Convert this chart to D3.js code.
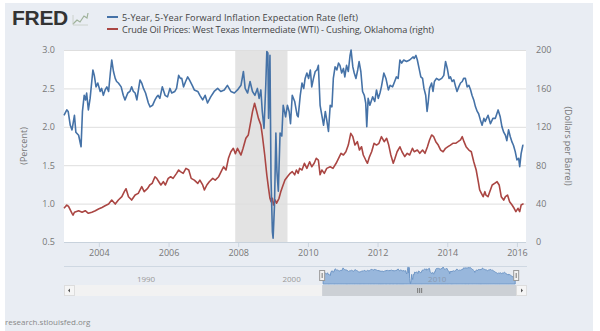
<!DOCTYPE html>
<html>
<head>
<meta charset="utf-8">
<script src="https://cdn.jsdelivr.net/npm/d3@7"></script>
<style>
  body { margin: 0; background: #fff; }
  svg { display: block; font-family: "Open Sans", sans-serif; }
</style>
</head>
<body>
<svg id="chart" width="600" height="331"></svg>
<script>
// 5-Year, 5-Year Forward Inflation Expectation Rate, percent (decimal year, value)
const inflYears = [
  2003.00, 2003.08, 2003.12, 2003.18, 2003.23, 2003.30, 2003.34, 2003.42, 2003.49, 2003.53,
  2003.58, 2003.62, 2003.65, 2003.70, 2003.75, 2003.83, 2003.87, 2003.92, 2003.97, 2004.04,
  2004.08, 2004.13, 2004.18, 2004.23, 2004.28, 2004.33, 2004.37, 2004.42, 2004.47, 2004.51,
  2004.56, 2004.64, 2004.70, 2004.75, 2004.83, 2004.89, 2004.94, 2004.99, 2005.04, 2005.09,
  2005.18, 2005.23, 2005.28, 2005.34, 2005.42, 2005.47, 2005.54, 2005.61, 2005.66, 2005.70,
  2005.75, 2005.82, 2005.90, 2005.97, 2006.04, 2006.09, 2006.18, 2006.23, 2006.29, 2006.34,
  2006.38, 2006.43, 2006.49, 2006.55, 2006.60, 2006.68, 2006.74, 2006.84, 2006.90, 2006.98,
  2007.05, 2007.12, 2007.21, 2007.31, 2007.41, 2007.50, 2007.60, 2007.69, 2007.79, 2007.89,
  2007.98, 2008.08, 2008.15, 2008.20, 2008.27, 2008.34, 2008.41, 2008.48, 2008.55, 2008.60,
  2008.65, 2008.69, 2008.74, 2008.79, 2008.82, 2008.85, 2008.87, 2008.91, 2008.94, 2008.98,
  2009.00, 2009.04, 2009.08, 2009.11, 2009.15, 2009.20, 2009.25, 2009.29, 2009.36, 2009.41,
  2009.46, 2009.50, 2009.55, 2009.62, 2009.69, 2009.72, 2009.78, 2009.83, 2009.88, 2009.92,
  2009.97, 2010.02, 2010.07, 2010.11, 2010.16, 2010.21, 2010.26, 2010.30, 2010.35, 2010.40,
  2010.45, 2010.50, 2010.54, 2010.59, 2010.64, 2010.69, 2010.73, 2010.78, 2010.83, 2010.88,
  2010.92, 2010.97, 2011.02, 2011.06, 2011.11, 2011.16, 2011.21, 2011.24, 2011.29, 2011.33,
  2011.38, 2011.43, 2011.47, 2011.52, 2011.57, 2011.62, 2011.66, 2011.69, 2011.73, 2011.78,
  2011.86, 2011.92, 2011.97, 2012.02, 2012.07, 2012.11, 2012.18, 2012.24, 2012.31, 2012.36,
  2012.43, 2012.49, 2012.54, 2012.59, 2012.64, 2012.69, 2012.75, 2012.83, 2012.92, 2013.02,
  2013.05, 2013.10, 2013.14, 2013.19, 2013.24, 2013.29, 2013.33, 2013.38, 2013.42, 2013.45,
  2013.49, 2013.55, 2013.59, 2013.63, 2013.69, 2013.76, 2013.84, 2013.90, 2013.95, 2014.00,
  2014.05, 2014.09, 2014.14, 2014.19, 2014.24, 2014.28, 2014.33, 2014.38, 2014.43, 2014.47,
  2014.52, 2014.57, 2014.62, 2014.67, 2014.71, 2014.76, 2014.81, 2014.86, 2014.90, 2014.95,
  2015.00, 2015.05, 2015.09, 2015.17, 2015.24, 2015.31, 2015.38, 2015.46, 2015.52, 2015.57,
  2015.62, 2015.67, 2015.71, 2015.76, 2015.81, 2015.86, 2015.90, 2015.95, 2016.00, 2016.05,
  2016.08, 2016.12, 2016.17, 2016.19
];
const inflRate = [
  2.15, 2.22, 2.20, 2.02, 1.96, 2.15, 1.93, 1.89, 1.74, 2.20,
  2.41, 2.35, 2.44, 2.22, 2.37, 2.74, 2.67, 2.52, 2.57, 2.46,
  2.50, 2.41, 2.48, 2.52, 2.46, 2.70, 2.87, 2.72, 2.63, 2.59,
  2.57, 2.52, 2.41, 2.35, 2.44, 2.46, 2.52, 2.46, 2.44, 2.35,
  2.61, 2.57, 2.50, 2.44, 2.31, 2.26, 2.28, 2.35, 2.39, 2.41,
  2.37, 2.52, 2.41, 2.39, 2.50, 2.44, 2.46, 2.50, 2.67, 2.63,
  2.63, 2.52, 2.59, 2.65, 2.61, 2.54, 2.48, 2.46, 2.41, 2.35,
  2.41, 2.31, 2.39, 2.46, 2.50, 2.46, 2.48, 2.54, 2.46, 2.44,
  2.48, 2.54, 2.72, 2.50, 2.44, 2.59, 2.46, 2.41, 2.50, 2.37,
  2.48, 2.20, 1.98, 2.54, 2.98, 2.96, 2.11, 2.93, 1.33, 0.63,
  0.55, 0.98, 1.92, 1.42, 1.16, 1.92, 1.88, 2.28, 2.13, 2.28,
  2.20, 2.04, 2.41, 2.33, 2.15, 2.13, 2.41, 2.57, 2.50, 2.63,
  2.70, 2.63, 2.74, 2.52, 2.63, 2.72, 2.74, 2.80, 2.28, 2.15,
  2.02, 2.20, 2.09, 1.94, 2.28, 2.26, 2.63, 2.78, 2.74, 2.83,
  2.80, 2.70, 2.76, 2.65, 2.80, 2.72, 2.93, 3.00, 2.78, 2.70,
  2.63, 2.74, 2.85, 2.72, 2.46, 2.41, 2.31, 2.00, 2.37, 2.28,
  2.39, 2.33, 2.48, 2.37, 2.44, 2.52, 2.70, 2.63, 2.48, 2.54,
  2.52, 2.59, 2.65, 2.63, 2.87, 2.83, 2.87, 2.85, 2.87, 2.91,
  2.89, 2.93, 2.87, 2.76, 2.65, 2.63, 2.50, 2.41, 2.20, 2.31,
  2.50, 2.57, 2.46, 2.59, 2.63, 2.61, 2.63, 2.67, 2.85, 2.76,
  2.63, 2.65, 2.59, 2.61, 2.52, 2.46, 2.52, 2.57, 2.59, 2.63,
  2.63, 2.52, 2.54, 2.48, 2.41, 2.35, 2.26, 2.20, 2.17, 2.09,
  2.02, 2.11, 2.07, 2.15, 2.04, 2.11, 2.11, 2.22, 2.13, 2.00,
  1.93, 1.89, 1.82, 1.96, 1.87, 1.80, 1.76, 1.68, 1.57, 1.59,
  1.48, 1.65, 1.76, 1.76
];

// Crude Oil Prices: WTI - Cushing, Oklahoma, dollars per barrel
const oilYears = [
  2003.00, 2003.08, 2003.13, 2003.23, 2003.26, 2003.30, 2003.42, 2003.52, 2003.61, 2003.70,
  2003.80, 2003.90, 2003.99, 2004.09, 2004.18, 2004.28, 2004.37, 2004.47, 2004.56, 2004.66,
  2004.73, 2004.78, 2004.85, 2004.94, 2005.04, 2005.13, 2005.23, 2005.30, 2005.40, 2005.46,
  2005.53, 2005.61, 2005.66, 2005.72, 2005.78, 2005.85, 2005.91, 2005.99, 2006.06, 2006.13,
  2006.23, 2006.29, 2006.34, 2006.42, 2006.50, 2006.58, 2006.65, 2006.74, 2006.84, 2006.90,
  2006.98, 2007.03, 2007.10, 2007.17, 2007.27, 2007.34, 2007.44, 2007.51, 2007.58, 2007.65,
  2007.72, 2007.79, 2007.86, 2007.92, 2007.98, 2008.08, 2008.14, 2008.22, 2008.29, 2008.36,
  2008.41, 2008.47, 2008.52, 2008.58, 2008.65, 2008.69, 2008.76, 2008.82, 2008.87, 2008.91,
  2008.94, 2008.98, 2009.01, 2009.06, 2009.10, 2009.17, 2009.22, 2009.27, 2009.34, 2009.41,
  2009.49, 2009.55, 2009.62, 2009.67, 2009.72, 2009.76, 2009.83, 2009.90, 2009.97, 2010.05,
  2010.11, 2010.18, 2010.24, 2010.30, 2010.35, 2010.40, 2010.47, 2010.54, 2010.64, 2010.72,
  2010.81, 2010.88, 2010.95, 2011.02, 2011.09, 2011.16, 2011.23, 2011.29, 2011.35, 2011.42,
  2011.48, 2011.54, 2011.59, 2011.66, 2011.71, 2011.77, 2011.83, 2011.90, 2011.97, 2012.04,
  2012.11, 2012.19, 2012.26, 2012.32, 2012.38, 2012.45, 2012.50, 2012.56, 2012.64, 2012.70,
  2012.78, 2012.85, 2012.92, 2013.00, 2013.05, 2013.14, 2013.21, 2013.29, 2013.36, 2013.43,
  2013.49, 2013.55, 2013.61, 2013.67, 2013.74, 2013.81, 2013.88, 2013.95, 2014.02, 2014.09,
  2014.16, 2014.24, 2014.31, 2014.38, 2014.43, 2014.48, 2014.54, 2014.62, 2014.69, 2014.76,
  2014.83, 2014.89, 2014.93, 2014.98, 2015.03, 2015.08, 2015.11, 2015.17, 2015.22, 2015.29,
  2015.36, 2015.43, 2015.49, 2015.55, 2015.62, 2015.67, 2015.73, 2015.79, 2015.86, 2015.92,
  2015.97, 2016.03, 2016.08, 2016.12, 2016.19
];
const oilPrice = [
  35.1, 38.5, 37.0, 29.9, 28.0, 31.0, 32.6, 31.0, 32.6, 29.9,
  31.0, 32.6, 34.3, 36.0, 37.7, 39.5, 43.7, 39.5, 43.7, 47.2,
  52.4, 55.5, 47.2, 43.7, 48.9, 50.7, 57.6, 52.4, 55.9, 59.4,
  61.1, 68.0, 66.3, 62.8, 59.4, 62.8, 59.4, 66.3, 68.0, 66.3,
  71.5, 75.0, 73.3, 71.5, 76.7, 75.0, 66.3, 64.5, 61.1, 64.5,
  59.4, 54.2, 59.4, 62.8, 66.3, 64.5, 68.0, 73.3, 78.4, 75.0,
  87.2, 94.0, 97.6, 92.0, 97.6, 90.6, 97.6, 108.0, 111.5, 125.3,
  135.8, 144.5, 137.5, 128.8, 121.8, 111.5, 90.6, 69.8, 55.9, 45.5,
  42.1, 45.5, 38.5, 43.8, 40.4, 45.5, 52.4, 57.6, 64.5, 68.0,
  71.5, 73.3, 70.0, 75.0, 71.5, 76.7, 75.0, 82.0, 76.7, 83.6,
  78.4, 82.0, 87.2, 85.4, 70.0, 75.0, 71.5, 76.7, 78.4, 76.7,
  82.0, 87.2, 92.4, 90.6, 94.0, 101.0, 113.2, 109.7, 101.0, 104.5,
  95.8, 99.2, 90.6, 85.4, 82.0, 89.0, 94.0, 102.8, 101.0, 102.8,
  109.7, 104.5, 108.0, 101.0, 90.6, 82.0, 87.2, 94.0, 99.2, 94.0,
  89.0, 92.4, 90.6, 97.6, 94.0, 95.8, 92.4, 95.8, 92.4, 99.3,
  106.3, 111.5, 109.7, 104.5, 101.0, 95.8, 94.0, 97.6, 99.3, 101.0,
  102.8, 102.8, 104.5, 106.3, 109.7, 104.5, 99.3, 95.8, 94.0, 83.6,
  75.0, 62.8, 54.2, 50.7, 47.2, 52.4, 48.9, 47.2, 52.4, 59.4,
  61.1, 62.8, 59.4, 47.2, 43.7, 47.2, 48.9, 42.0, 38.5, 35.1,
  31.6, 35.1, 31.6, 38.5, 40.0
];

const recession = ["2007-12-01", "2009-06-01"];
const leftTicks = [0.5, 1.0, 1.5, 2.0, 2.5, 3.0];
const rightTicks = [0, 40, 80, 120, 160, 200];
const navTicks = [1990, 2000, 2010];
const seriesNames = [
  "5-Year, 5-Year Forward Inflation Expectation Rate (left)",
  "Crude Oil Prices: West Texas Intermediate (WTI) - Cushing, Oklahoma (right)"
];
const seriesColors = ["#4572a7", "#aa4643"];
const legendWidths = [236, 312];

// decimal year -> Date
function toDate(y) {
  const yr = Math.floor(y);
  const a = new Date(yr, 0, 1), b = new Date(yr + 1, 0, 1);
  return new Date(+a + (y - yr) * (b - a));
}

const infl = inflYears.map((y, i) => ({ date: toDate(y), value: inflRate[i] }));
const oil = oilYears.map((y, i) => ({ date: toDate(y), value: oilPrice[i] }));

const svg = d3.select("#chart");
const plot = { left: 64, top: 50, right: 526, bottom: 242 };
const nav = { top: 266, bottom: 284, left: 64, right: 527 };

// page background
svg.append("rect")
  .attr("x", 5).attr("y", 3).attr("width", 588).attr("height", 328)
  .attr("fill", "#e9edf3");

// header: FRED logo + legend
svg.append("text")
  .attr("x", 12).attr("y", 25)
  .attr("font-family", "Liberation Sans, Arial, sans-serif")
  .attr("font-weight", "bold").attr("font-size", 21)
  .attr("letter-spacing", -0.3)
  .attr("fill", "#333")
  .text("FRED");
const icon = svg.append("g").attr("transform", "translate(72,12)");
icon.append("path")
  .attr("d", "M1,12 L5,8 L8,10 L12,4 L15,6 L16,1")
  .attr("fill", "none").attr("stroke", "#9fb29a").attr("stroke-width", 1.2);
icon.append("path")
  .attr("d", "M1,13 L16,13 M1,13 L1,3")
  .attr("fill", "none").attr("stroke", "#c4ccc2").attr("stroke-width", 0.8);

const legend = svg.append("g");
seriesNames.forEach((name, i) => {
  const y = 17 + i * 12;
  legend.append("line")
    .attr("x1", 107).attr("x2", 118).attr("y1", y).attr("y2", y)
    .attr("stroke", seriesColors[i]).attr("stroke-width", 2);
  legend.append("text")
    .attr("x", 122).attr("y", y + 3.5)
    .attr("font-size", 9.2).attr("fill", "#444")
    .attr("textLength", legendWidths[i]).attr("lengthAdjust", "spacing")
    .text(name);
});

// scales
const x = d3.scaleTime()
  .domain([toDate(2003.0), toDate(2016.26)])
  .range([plot.left, plot.right]);
const yL = d3.scaleLinear().domain([0.5, 3.0]).range([plot.bottom, plot.top]);
const yR = d3.scaleLinear().domain([0, 200]).range([plot.bottom, plot.top]);

// plot area
svg.append("rect")
  .attr("x", plot.left).attr("y", plot.top)
  .attr("width", plot.right - plot.left).attr("height", plot.bottom - plot.top)
  .attr("fill", "#fff");

// recession shading
svg.append("rect")
  .attr("x", x(new Date(recession[0])))
  .attr("y", plot.top)
  .attr("width", x(new Date(recession[1])) - x(new Date(recession[0])))
  .attr("height", plot.bottom - plot.top)
  .attr("fill", "#e3e3e3");

// gridlines
svg.append("g")
  .attr("transform", "translate(" + plot.left + ",0)")
  .call(d3.axisLeft(yL).tickValues(leftTicks).tickSize(-(plot.right - plot.left)).tickFormat(""))
  .call(g => g.select(".domain").remove())
  .call(g => g.selectAll("line").attr("stroke", "#dedede"));

// left axis
svg.append("g")
  .attr("transform", "translate(" + plot.left + ",0)")
  .call(d3.axisLeft(yL).tickValues(leftTicks).tickSize(0).tickPadding(9).tickFormat(d3.format(".1f")))
  .call(g => g.select(".domain").remove())
  .call(g => g.selectAll("text").attr("fill", "#777").attr("font-size", 9).attr("font-family", "Open Sans"));

// right axis
svg.append("g")
  .attr("transform", "translate(" + plot.right + ",0)")
  .call(d3.axisRight(yR).tickValues(rightTicks).tickSize(0).tickPadding(10))
  .call(g => g.select(".domain").remove())
  .call(g => g.selectAll("text").attr("fill", "#777").attr("font-size", 9).attr("font-family", "Open Sans"));

// x axis
svg.append("g")
  .attr("transform", "translate(0," + plot.bottom + ")")
  .call(d3.axisBottom(x).ticks(d3.timeYear.every(2)).tickSize(5).tickPadding(3).tickFormat(d3.timeFormat("%Y")))
  .call(g => g.select(".domain").remove())
  .call(g => g.selectAll("line").attr("stroke", "#ccd6e0"))
  .call(g => g.selectAll("text").attr("fill", "#777").attr("font-size", 9).attr("font-family", "Open Sans"));
svg.append("line")
  .attr("x1", plot.left).attr("x2", plot.right)
  .attr("y1", plot.bottom + 0.5).attr("y2", plot.bottom + 0.5)
  .attr("stroke", "#c8d2dc");

// axis titles
svg.append("text")
  .attr("transform", "translate(27," + (plot.top + plot.bottom) / 2 + ") rotate(-90)")
  .attr("text-anchor", "middle").attr("font-size", 9).attr("fill", "#777")
  .text("(Percent)");
svg.append("text")
  .attr("transform", "translate(565," + (plot.top + plot.bottom) / 2 + ") rotate(90)")
  .attr("text-anchor", "middle").attr("font-size", 9).attr("fill", "#777")
  .text("(Dollars per Barrel)");

// series lines
svg.append("path")
  .datum(oil)
  .attr("fill", "none").attr("stroke", seriesColors[1]).attr("stroke-width", 1.6)
  .attr("stroke-linejoin", "round")
  .attr("d", d3.line().x(d => x(d.date)).y(d => yR(d.value)));
svg.append("path")
  .datum(infl)
  .attr("fill", "none").attr("stroke", seriesColors[0]).attr("stroke-width", 1.6)
  .attr("stroke-linejoin", "round")
  .attr("d", d3.line().x(d => x(d.date)).y(d => yL(d.value)));

// navigator
const xN = d3.scaleTime()
  .domain([toDate(1985.2), toDate(2017.0)])
  .range([nav.left, nav.right]);
const yN = d3.scaleLinear().domain([0.5, 3.0]).range([nav.bottom, nav.top + 1]);

svg.append("line")
  .attr("x1", nav.left).attr("x2", nav.right)
  .attr("y1", nav.top + 0.5).attr("y2", nav.top + 0.5)
  .attr("stroke", "#cfd8e2");

svg.append("path")
  .datum(infl)
  .attr("fill", "#98b7dc")
  .attr("stroke", "#6e96c6").attr("stroke-width", 1)
  .attr("d", d3.area().x(d => xN(d.date)).y0(nav.bottom).y1(d => yN(d.value)));

navTicks.forEach(t => {
  svg.append("text")
    .attr("x", xN(toDate(t)) + 3).attr("y", 282)
    .attr("font-size", 8).attr("fill", t === 2010 ? "#8a9ab0" : "#999")
    .text(t);
});

// scrollbar
const sbTop = 285, sbH = 11;
const thumbL = xN(toDate(2003.0)) - 1, thumbR = xN(toDate(2016.19)) + 1;
svg.append("rect")
  .attr("x", nav.left).attr("y", sbTop).attr("width", nav.right - nav.left).attr("height", sbH)
  .attr("fill", "#f2f2f2");
svg.append("rect")
  .attr("x", thumbL).attr("y", sbTop).attr("width", thumbR - thumbL).attr("height", sbH)
  .attr("fill", "#ccd0d5");
svg.append("rect")
  .attr("x", nav.left + 0.5).attr("y", sbTop + 0.5).attr("width", 10).attr("height", sbH - 1)
  .attr("fill", "#f5f5f5").attr("stroke", "#ddd");
svg.append("rect")
  .attr("x", nav.right - 10.5).attr("y", sbTop + 0.5).attr("width", 10).attr("height", sbH - 1)
  .attr("fill", "#f5f5f5").attr("stroke", "#ddd");
svg.append("path")
  .attr("d", `M${nav.left + 6},${sbTop + 3.5} L${nav.left + 4},${sbTop + 5.5} L${nav.left + 6},${sbTop + 7.5} Z`)
  .attr("fill", "#555");
svg.append("path")
  .attr("d", `M${nav.right - 6},${sbTop + 3.5} L${nav.right - 4},${sbTop + 5.5} L${nav.right - 6},${sbTop + 7.5} Z`)
  .attr("fill", "#555");
const gripX = (thumbL + thumbR) / 2;
[-2, 0, 2].forEach(dx => {
  svg.append("line")
    .attr("x1", gripX + dx + 0.5).attr("x2", gripX + dx + 0.5)
    .attr("y1", sbTop + 3).attr("y2", sbTop + 8)
    .attr("stroke", "#777");
});

// navigator handles
[thumbL, thumbR].forEach(hx => {
  svg.append("rect")
    .attr("x", hx - 2.5).attr("y", 270.5).attr("width", 5).attr("height", 10)
    .attr("fill", "#f2f2f2").attr("stroke", "#999");
  svg.append("line")
    .attr("x1", hx).attr("x2", hx).attr("y1", 273).attr("y2", 278)
    .attr("stroke", "#777");
});

// source
svg.append("text")
  .attr("x", 5).attr("y", 325)
  .attr("font-size", 8).attr("fill", "#888")
  .text("research.stlouisfed.org");
</script>
</body>
</html>
